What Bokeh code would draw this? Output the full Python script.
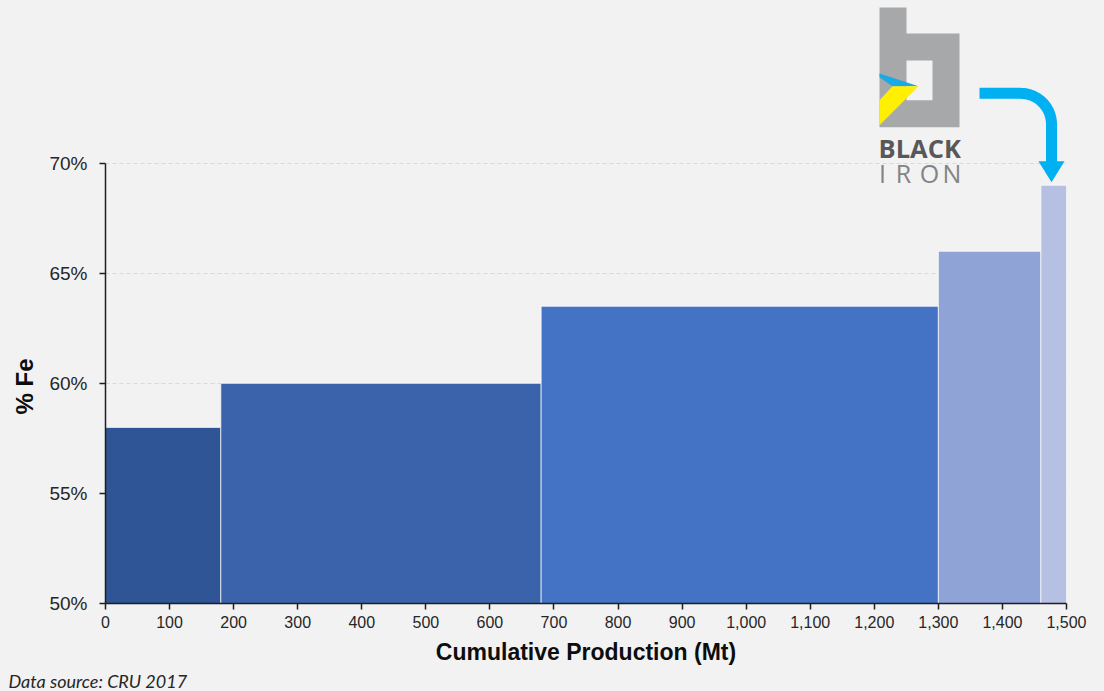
from bokeh.plotting import figure
from bokeh.models import (Range1d, FixedTicker, NumeralTickFormatter, ColumnDataSource,
                          Title, CustomJSTickFormatter)
from bokeh.core.properties import value
from bokeh.embed import file_html
from bokeh.resources import INLINE
import math

# ---------------- data ----------------
cum_edges = [0, 180, 680, 1300, 1460, 1500]          # cumulative production (Mt)
fe_grade = [58.0, 60.0, 63.5, 66.0, 69.0]             # % Fe
bar_colors = ["#2F5597", "#3A63AB", "#4472C4", "#8FA3D6", "#B5C0E3"]
x_ticks = list(range(0, 1501, 100))
y_ticks = [50, 55, 60, 65, 70]

BG = "#F2F2F2"
W, H = 1104, 691
FL, FR, FT, FB = 105, 1066, 0, 604     # frame edges inside the figure (px)
Y70 = 163                              # pixel row of the 70% line
Y_TOP = 50 + (FB - FT) / (FB - Y70) * 20

p = figure(width=W, height=H, output_backend="svg", toolbar_location=None,
           x_range=Range1d(0, 1500), y_range=Range1d(50, Y_TOP),
           min_border_left=FL, min_border_right=W - FR, min_border_top=FT,
           min_border_bottom=H - FB, background_fill_color=BG,
           border_fill_color=BG, outline_line_color=None)

src = ColumnDataSource(dict(left=cum_edges[:-1], right=cum_edges[1:], top=fe_grade,
                            bottom=[50] * len(fe_grade), color=bar_colors))
p.quad(left="left", right="right", top="top", bottom="bottom", source=src,
       fill_color="color", line_color="white", line_alpha=0.7, line_width=1)

# axes
p.xaxis.ticker = FixedTicker(ticks=x_ticks)
p.xaxis.formatter = NumeralTickFormatter(format="0,0")
p.yaxis.ticker = FixedTicker(ticks=y_ticks)
p.yaxis.formatter = CustomJSTickFormatter(code="return tick.toFixed(0) + '%';")
p.yaxis.bounds = (50, 70)
for ax in (p.xaxis, p.yaxis):
    ax.axis_line_color = "#1F1F1F"
    ax.axis_line_width = 1.5
    ax.major_tick_line_color = "#1F1F1F"
    ax.major_tick_line_width = 1.5
    ax.major_tick_out = 6
    ax.major_tick_in = 0
    ax.minor_tick_line_color = None
    ax.major_label_text_color = "#262626"
    ax.major_label_text_font = "Liberation Sans"
    ax.axis_label_text_font = "Liberation Sans"
    ax.axis_label_text_font_style = "bold"
    ax.axis_label_text_color = "#0D0D0D"
p.xaxis.major_label_text_font_size = "16px"
p.yaxis.major_label_text_font_size = "19px"
p.xaxis.axis_label = "Cumulative Production (Mt)"
p.xaxis.axis_label_text_font_size = "23px"
p.xaxis.major_label_standoff = 6
p.yaxis.major_label_standoff = 12
p.xaxis.axis_label_standoff = 8

p.xgrid.grid_line_color = None
p.ygrid.ticker = FixedTicker(ticks=y_ticks)
p.ygrid.grid_line_color = "#D9D9D9"
p.ygrid.grid_line_dash = "4 3"
p.ygrid.grid_line_width = 1

# y axis title placed along the 50-70% span
p.add_layout(Title(text="% Fe", align="left", offset=FB - 415, vertical_align="middle",
                   standoff=16, text_font="Liberation Sans", text_font_style="bold",
                   text_font_size="24px", text_color="#0D0D0D"), "left")

# ---------------- logo + arrow (decoration, placed in pixel space) ----------------
def dx(sx):
    return (sx - FL) / (FR - FL) * 1500

def dy(sy):
    return 50 + (FB - sy) / (FB - Y70) * 20

def poly(pts):
    return [dx(a) for a, b in pts], [dy(b) for a, b in pts]

gray = "#A7A8AA"
xs, ys = poly([(879, 7), (906, 7), (906, 33), (959, 33), (959, 127), (879, 127)])
p.patch(xs, ys, fill_color=gray, line_color=None)
xs, ys = poly([(906, 60), (932, 60), (932, 100), (906, 100)])
p.patch(xs, ys, fill_color=BG, line_color=None)
xs, ys = poly([(879, 73), (918, 86), (892, 86), (879, 77)])
p.patch(xs, ys, fill_color="#18A9E6", line_color=None)
xs, ys = poly([(892, 86), (918, 86), (879, 125), (879, 100)])
p.patch(xs, ys, fill_color="#FFF000", line_color=None)

p.text(x=[dx(878)], y=[dy(147.5)], text=["BLACK"], text_font=value("Open Sans"),
       text_font_size="25.5px", text_font_style="bold", text_color="#58585A",
       text_baseline="alphabetic", text_align="left")
p.text(x=[dx(c) for c in (882, 903, 929, 951.5)], y=[dy(173)] * 4,
       text=list("IRON"), text_font=value("Open Sans"), text_font_size="25px",
       text_color="#838486", text_baseline="alphabetic", text_align="center")

arrow_blue = "#00B0F0"
cx, cy, r = 1020, 124, 31
pts = [(979, 93)]
for i in range(0, 31):
    a = math.pi / 2 - (math.pi / 2) * i / 30
    pts.append((cx + r * math.cos(a), cy - r * math.sin(a)))
pts.append((1051, 162))
xs, ys = poly(pts)
p.line(xs, ys, line_color=arrow_blue, line_width=11, line_cap="butt", line_join="round")
xs, ys = poly([(1038, 161), (1064, 161), (1051, 182)])
p.patch(xs, ys, fill_color=arrow_blue, line_color=None)

# source note
p.add_layout(Title(text="Data source: CRU 2017", align="left", offset=8 - FL,
                   standoff=0, text_font="Lato", text_font_style="italic",
                   text_font_size="18px", text_color="#262626"), "below")

html = file_html(p, INLINE)
html = html.replace("</head>", "<style>body{background:#F2F2F2;}</style></head>", 1)
open("out.html", "w").write(html)
